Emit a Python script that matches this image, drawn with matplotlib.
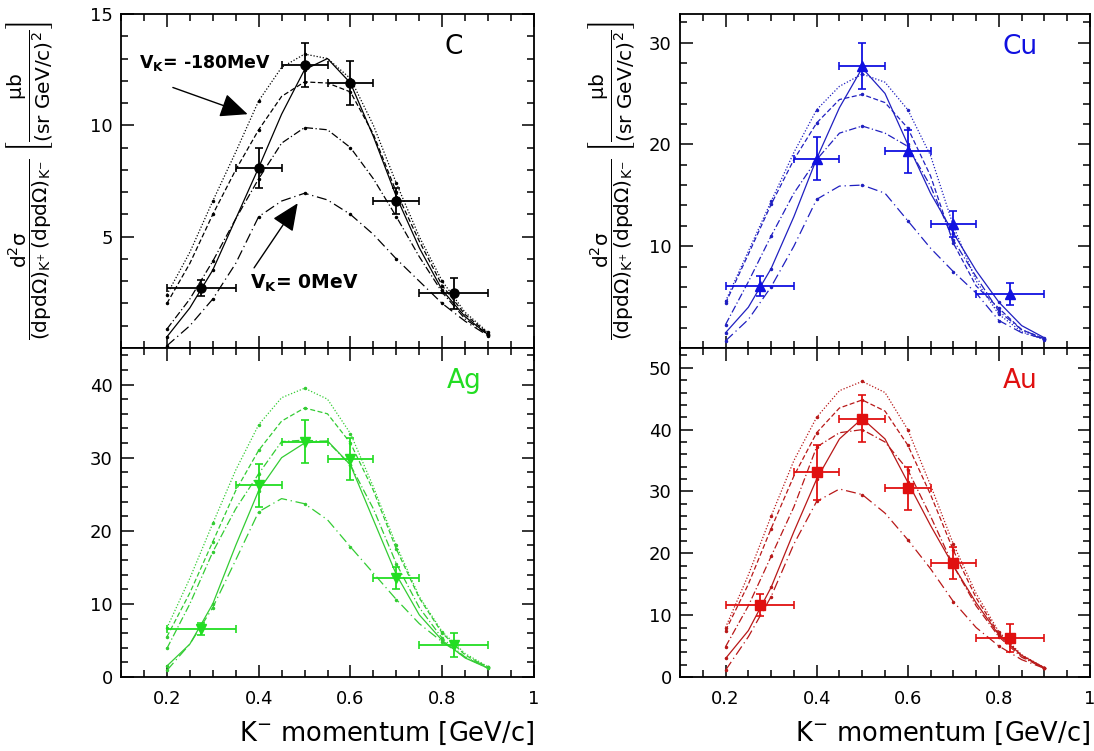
import matplotlib
matplotlib.use("Agg")
import matplotlib.pyplot as plt
from matplotlib.ticker import MultipleLocator, FixedLocator

plt.rcParams['font.family'] = ['DejaVu Sans']
plt.rcParams['mathtext.fontset'] = 'dejavusans'
plt.rcParams['mathtext.default'] = 'regular'

# ---------------- data ----------------
x_grid = [0.20, 0.25, 0.30, 0.35, 0.40, 0.45, 0.50, 0.55, 0.60, 0.65, 0.70, 0.75, 0.80, 0.85, 0.90]

x_data = [0.275, 0.40, 0.50, 0.60, 0.70, 0.825]
x_err = [0.075, 0.05, 0.05, 0.05, 0.05, 0.075]

# Carbon
c_y = [2.7, 8.1, 12.7, 11.9, 6.6, 2.45]
c_yerr = [0.35, 0.9, 1.0, 1.0, 0.6, 0.7]
c_dotted = [2.4, 4.3, 6.6, 8.8, 11.1, 12.6, 13.2, 13.0, 12.1, 10.0, 7.4, 5.0, 3.0, 1.6, 0.7]
c_dashed = [2.0, 3.8, 6.0, 8.0, 9.8, 11.3, 11.95, 11.9, 11.5, 9.6, 7.0, 4.8, 2.8, 1.5, 0.65]
c_solid = [0.5, 1.8, 3.5, 5.8, 8.1, 10.5, 12.5, 13.0, 11.9, 9.5, 6.8, 4.5, 2.6, 1.4, 0.6]
c_dashdot = [0.85, 2.2, 3.9, 5.8, 7.6, 9.2, 9.9, 9.8, 9.0, 7.6, 5.9, 4.1, 2.5, 1.3, 0.6]
c_lowest = [0.1, 1.0, 2.2, 3.8, 5.9, 6.6, 6.95, 6.65, 6.0, 5.1, 4.0, 3.0, 2.0, 1.2, 0.55]

# Copper
cu_y = [6.1, 18.6, 27.7, 19.3, 12.2, 5.3]
cu_yerr = [1.0, 2.1, 2.3, 2.1, 1.3, 1.05]
cu_dotted = [4.6, 9.5, 14.4, 19.2, 23.4, 25.7, 26.9, 26.1, 23.4, 18.9, 12.0, 6.6, 3.3, 1.6, 0.8]
cu_dashed = [4.4, 9.2, 14.1, 18.5, 22.1, 24.4, 24.9, 24.1, 21.6, 16.9, 10.3, 6.1, 3.9, 1.8, 0.9]
cu_solid = [1.5, 4.0, 7.8, 12.9, 18.6, 23.6, 27.5, 25.0, 20.0, 15.2, 11.3, 7.6, 4.5, 2.2, 1.0]
cu_dashdot = [2.3, 6.5, 11.0, 15.2, 18.5, 21.1, 21.8, 21.1, 19.8, 15.9, 10.6, 7.0, 3.6, 1.8, 0.9]
cu_lowest = [0.7, 2.8, 6.0, 10.0, 14.6, 15.9, 16.0, 15.2, 12.5, 9.8, 7.5, 5.4, 2.7, 1.5, 0.9]

# Silver
ag_y = [6.6, 26.2, 32.2, 29.8, 13.6, 4.4]
ag_yerr = [0.8, 2.9, 2.9, 2.9, 1.5, 1.6]
ag_dotted = [6.7, 13.5, 21.0, 28.3, 34.5, 38.2, 39.5, 38.0, 33.3, 26.0, 18.0, 11.0, 6.2, 3.2, 1.4]
ag_dashed = [5.5, 11.5, 18.5, 25.5, 31.0, 35.0, 36.8, 36.0, 32.0, 25.5, 17.5, 10.8, 6.0, 3.0, 1.3]
ag_solid = [1.5, 4.5, 10.0, 18.0, 25.5, 30.0, 32.0, 32.3, 29.0, 21.5, 14.0, 8.5, 5.0, 2.6, 1.2]
ag_dashdot = [3.9, 10.0, 17.1, 23.0, 27.8, 32.2, 32.4, 32.2, 29.0, 23.0, 15.5, 9.5, 5.3, 2.7, 1.2]
ag_lowest = [0.9, 4.5, 9.5, 16.0, 22.6, 24.4, 23.7, 21.5, 17.8, 14.2, 10.6, 7.3, 4.8, 2.7, 1.4]

# Gold
au_y = [11.6, 33.1, 41.8, 30.5, 18.5, 6.3]
au_yerr = [1.8, 4.4, 3.8, 3.5, 2.6, 2.2]
au_dotted = [8.0, 16.5, 26.0, 35.0, 42.0, 46.3, 47.8, 46.0, 40.0, 31.0, 21.5, 13.5, 7.3, 3.6, 1.5]
au_dashed = [7.5, 15.0, 24.0, 32.5, 39.5, 43.5, 44.8, 43.0, 37.5, 29.5, 20.5, 12.8, 7.0, 3.4, 1.4]
au_solid = [3.0, 7.5, 14.5, 23.5, 32.0, 38.5, 41.8, 38.5, 31.5, 24.5, 18.0, 12.0, 6.8, 3.5, 1.5]
au_dashdot = [4.9, 11.5, 19.5, 27.5, 37.2, 39.5, 40.0, 38.0, 33.5, 26.0, 18.0, 11.5, 6.5, 3.2, 1.4]
au_lowest = [1.1, 6.5, 13.0, 21.5, 28.4, 30.4, 29.5, 26.5, 22.2, 17.5, 12.2, 8.0, 5.0, 2.8, 1.4]

xticks = [0.2, 0.4, 0.6, 0.8, 1.0]
xtick_labels = ['0.2', '0.4', '0.6', '0.8', '1']

panels = [
    dict(name='C', y=c_y, yerr=c_yerr, curves=[c_dotted, c_dashed, c_solid, c_dashdot, c_lowest],
         data_color='black', line_color='black', marker='o', ylim=(0, 15), yticks=[5, 10, 15], minor=1,
         pos=[121, 14, 534, 348], ylab_x=-0.16, name_x=0.805),
    dict(name='Cu', y=cu_y, yerr=cu_yerr, curves=[cu_dotted, cu_dashed, cu_solid, cu_dashdot, cu_lowest],
         data_color='#1010e0', line_color='#2020c0', marker='^', ylim=(0, 32.8), yticks=[10, 20, 30], minor=2,
         pos=[680, 14, 1090, 348], ylab_x=-0.105, name_x=0.83),
    dict(name='Ag', y=ag_y, yerr=ag_yerr, curves=[ag_dotted, ag_dashed, ag_solid, ag_dashdot, ag_lowest],
         data_color='#22dd22', line_color='#33cc33', marker='v', ylim=(0, 45), yticks=[0, 10, 20, 30, 40], minor=2,
         pos=[121, 348, 534, 677], ylab_x=None, name_x=0.83),
    dict(name='Au', y=au_y, yerr=au_yerr, curves=[au_dotted, au_dashed, au_solid, au_dashdot, au_lowest],
         data_color='#e01010', line_color='#b81818', marker='s', ylim=(0, 53.2), yticks=[0, 10, 20, 30, 40, 50], minor=2,
         pos=[680, 348, 1090, 677], ylab_x=None, name_x=0.83),
]

linestyles = [(0, (1, 1.5)), (0, (4, 2)), '-', (0, (6, 2, 1, 2)), (0, (8, 3, 1, 3))]

W, H = 1094, 751
fig = plt.figure(figsize=(W / 100, H / 100), dpi=100)

ylabel = (r'$\dfrac{d^2\sigma}{(dpd\Omega)_{K^{+}}\,(dpd\Omega)_{K^{-}}}$'
          r'$\ \left[\dfrac{\mu b}{(sr\ GeV/c)^2}\right]$')

for i, p in enumerate(panels):
    l, t, r, b = p['pos']
    ax = fig.add_axes([l / W, 1 - b / H, (r - l) / W, (b - t) / H])
    for curve, ls in zip(p['curves'], linestyles):
        ax.plot(x_grid, curve, color=p['line_color'], ls=ls, lw=0.9,
                marker='.', markersize=3, markevery=2)
    ax.errorbar(x_data, p['y'], xerr=x_err, yerr=p['yerr'], fmt=p['marker'],
                color=p['data_color'], ms=6.5, elinewidth=1.3, capsize=3, capthick=1.2, zorder=5)
    ax.set_xlim(0.1, 1.0)
    ax.set_ylim(*p['ylim'])
    ax.xaxis.set_major_locator(FixedLocator(xticks))
    ax.xaxis.set_minor_locator(MultipleLocator(0.05))
    ax.yaxis.set_major_locator(FixedLocator(p['yticks']))
    ax.yaxis.set_minor_locator(MultipleLocator(p['minor']))
    ax.tick_params(which='both', direction='in', top=True, right=True, width=1.1)
    ax.tick_params(which='major', length=9, labelsize=13, pad=6)
    ax.tick_params(axis='x', which='major', pad=9)
    ax.tick_params(which='minor', length=5)
    for s in ax.spines.values():
        s.set_linewidth(1.3)
    if i < 2:
        ax.tick_params(labelbottom=False)
    else:
        ax.set_xticklabels(xtick_labels)
        ax.set_xlabel(r'K$^{-}$ momentum [GeV/c]', fontsize=18.5, loc='right', labelpad=9)
    if p['ylab_x'] is not None:
        ax.set_ylabel(ylabel, fontsize=14.5)
        ax.yaxis.set_label_coords(p['ylab_x'], 0.5)
    ax.text(p['name_x'], 0.90, p['name'], transform=ax.transAxes, fontsize=19,
            color=p['data_color'], ha='center', va='center')
    if i == 0:
        ax.annotate('', xy=(0.376, 10.5), xytext=(0.213, 11.7),
                    arrowprops=dict(arrowstyle='-|>,head_length=1.7,head_width=0.75', lw=1.0,
                                    color='black', shrinkA=0, shrinkB=0))
        ax.annotate('', xy=(0.485, 6.5), xytext=(0.39, 3.6),
                    arrowprops=dict(arrowstyle='-|>,head_length=1.7,head_width=0.75', lw=1.0,
                                    color='black', shrinkA=0, shrinkB=0))
        ax.text(0.14, 12.8, r'V$_{\mathbf{K}}$= -180MeV', fontsize=12.5, fontweight='bold',
                ha='left', va='center')
        ax.text(0.381, 2.9, r'V$_{\mathbf{K}}$= 0MeV', fontsize=13.5, fontweight='bold',
                ha='left', va='center')

fig.savefig('out.png', dpi=100)
